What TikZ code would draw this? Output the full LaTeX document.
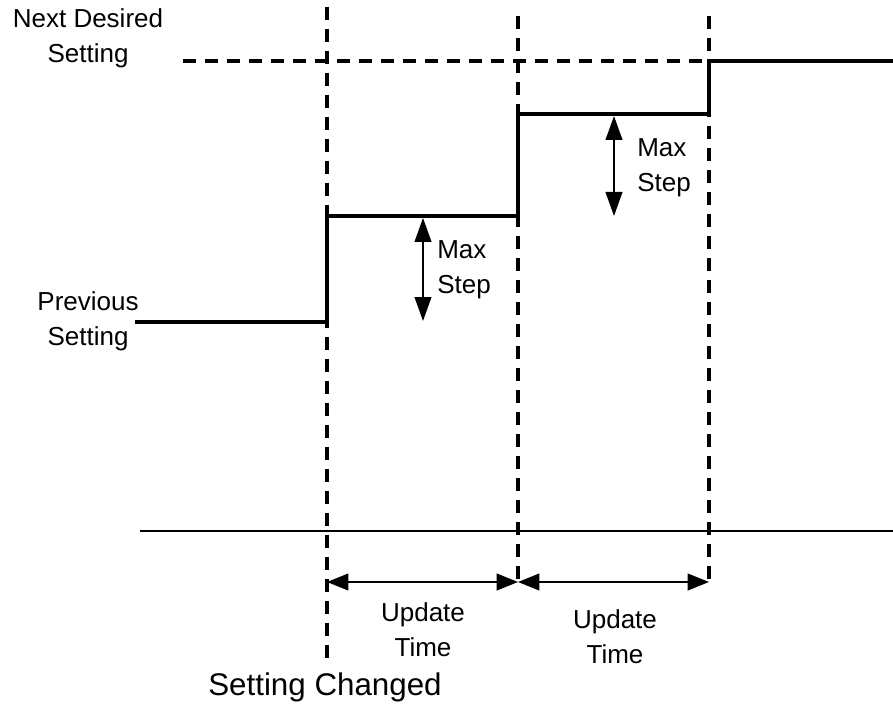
\documentclass[tikz,border=0pt]{standalone}
\usepackage{fontspec}
\setmainfont{Liberation Sans}
\usetikzlibrary{arrows.meta}

\begin{document}
\begin{tikzpicture}[
    x=0.75pt, y=-0.75pt,
    lbl/.style={align=center, inner sep=0pt, font=\fontsize{19.5}{26}\selectfont},
    level/.style={line width=2.4pt},
    guide/.style={line width=2.3pt, dash pattern=on 10pt off 6.5pt},
    span/.style={{Triangle[length=16pt,width=12.5pt]}-{Triangle[length=16pt,width=12.5pt]}, line width=1.5pt},
    rise/.style={{Triangle[length=18pt,width=12.5pt]}-{Triangle[length=18pt,width=12.5pt]}, line width=1.5pt}
]
    \useasboundingbox (0,0) rectangle (893,706);

    % --- time marks and levels ---
    \coordinate (t0top) at (327,7);
    \coordinate (t0bot) at (327,660);
    \coordinate (t1top) at (518,16);
    \coordinate (t1bot) at (518,582);
    \coordinate (t2top) at (709,16);
    \coordinate (t2bot) at (709,582);
    \coordinate (nextL) at (183,61);
    \coordinate (nextR) at (709,61);
    \coordinate (axisL) at (140,531);
    \coordinate (axisR) at (893,531);

    % --- labels ---
    \node[lbl] (next) at (88,38) {Next Desired\\Setting};
    \node[lbl] (prev) at (88,321) {Previous\\Setting};
    \node[lbl, align=left, anchor=west] (max1) at (437,270) {Max\\Step};
    \node[lbl, align=left, anchor=west] (max2) at (637,168) {Max\\Step};
    \node[lbl] (upd1) at (423,630) {Update\\Time};
    \node[lbl] (upd2) at (615,637) {Update\\Time};
    \node[inner sep=0pt, font=\fontsize{23.5}{28}\selectfont] (chg) at (325,687) {Setting Changed};

    % --- dashed guides ---
    \draw[guide] (t0top) -- (t0bot);
    \draw[guide] (t1top) -- (t1bot);
    \draw[guide] (t2top) -- (t2bot);
    \draw[guide] (nextL) -- (nextR);

    % --- stepped setting ---
    \draw[level] (135,322) -- (327,322) -- (327,216) -- (518,216)
        -- (518,114) -- (709,114) -- (709,61) -- (893,61);

    % --- time axis ---
    \draw[line width=1.5pt] (axisL) -- (axisR);

    % --- max step arrows ---
    \draw[rise] (423,218) -- (423,321);
    \draw[rise] (614,116) -- (614,216);

    % --- update time arrows ---
    \draw[span] (t0bot |- t1bot) -- (t1bot);
    \draw[span] (t1bot) -- (t2bot);
\end{tikzpicture}
\end{document}
